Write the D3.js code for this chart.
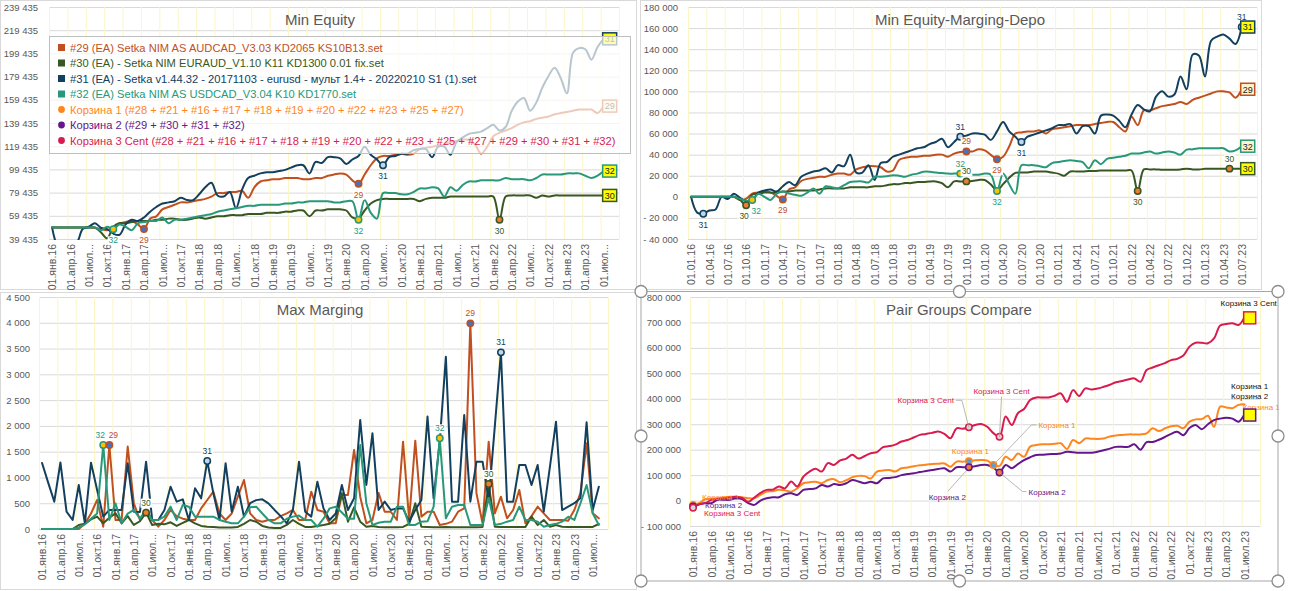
<!DOCTYPE html>
<html>
<head>
<meta charset="utf-8">
<script src="https://cdn.jsdelivr.net/npm/d3@7"></script>
<style>
  body { margin: 0; background: #fff; }
  svg { display: block; font-family: "Liberation Sans", Arial, sans-serif; }
</style>
</head>
<body>
<svg id="board" width="1290" height="591"></svg>
<script>
// quarter tick labels (one per 3 months, Jan 2016 .. Jul 2023)
var qRu = ["01.янв.16","01.апр.16","01.июл...","01.окт.16","01.янв.17","01.апр.17","01.июл...","01.окт.17",
  "01.янв.18","01.апр.18","01.июл...","01.окт.18","01.янв.19","01.апр.19","01.июл...","01.окт.19",
  "01.янв.20","01.апр.20","01.июл...","01.окт.20","01.янв.21","01.апр.21","01.июл...","01.окт.21",
  "01.янв.22","01.апр.22","01.июл...","01.окт.22","01.янв.23","01.апр.23","01.июл..."];
var qRuFull = ["01.янв.16","01.апр.16","01.июл.16","01.окт.16","01.янв.17","01.апр.17","01.июл.17","01.окт.17",
  "01.янв.18","01.апр.18","01.июл.18","01.окт.18","01.янв.19","01.апр.19","01.июл.19","01.окт.19",
  "01.янв.20","01.апр.20","01.июл.20","01.окт.20","01.янв.21","01.апр.21","01.июл.21","01.окт.21",
  "01.янв.22","01.апр.22","01.июл.22","01.окт.22","01.янв.23","01.апр.23","01.июл.23"];
var qNum = ["01.01.16","01.04.16","01.07.16","01.10.16","01.01.17","01.04.17","01.07.17","01.10.17",
  "01.01.18","01.04.18","01.07.18","01.10.18","01.01.19","01.04.19","01.07.19","01.10.19",
  "01.01.20","01.04.20","01.07.20","01.10.20","01.01.21","01.04.21","01.07.21","01.10.21",
  "01.01.22","01.04.22","01.07.22","01.10.22","01.01.23","01.04.23","01.07.23"];

var eqTicks = [39435,59435,79435,99435,119435,139435,159435,179435,199435,219435,239435];
var mdTicks = [-40000,-20000,0,20000,40000,60000,80000,100000,120000,140000,160000,180000];
var mmTicks = [0,500,1000,1500,2000,2500,3000,3500,4000,4500];
var pgTicks = [-100000,0,100000,200000,300000,400000,500000,600000,700000,800000];

var legendNames = [
  "#29 (EA) Setka NIM AS AUDCAD_V3.03 KD2065 KS10B13.set",
  "#30 (EA) - Setka NIM EURAUD_V1.10 K11 KD1300 0.01 fix.set",
  "#31 (EA) - Setka v1.44.32 - 20171103 - eurusd - мульт 1.4+ - 20220210 S1 (1).set",
  "#32 (EA) Setka NIM AS USDCAD_V3.04 K10 KD1770.set",
  "Корзина 1 (#28 + #21 + #16 + #17 + #18 + #19 + #20 + #22 + #23 + #25 + #27)",
  "Корзина 2 (#29 + #30 + #31 + #32)",
  "Корзина 3 Cent (#28 + #21 + #16 + #17 + #18 + #19 + #20 + #22 + #23 + #25 + #27 + #29 + #30 + #31 + #32)"
];

// Min Equity, thousands
var eq29 = [49.4,49.4,49.4,49.4,49.4,49.4,49.4,49,48,47, 50,53,54,55,52,48,57,59,65,67,
  69,71,71,72,73,74,76,79,79,80, 80,81,75,84,89,90,91,91,92,92, 92,91,91,92,92,94,95,96,95,90,
  87,95,103,109,111,111,112,113,112,113, 117,118,119,120,121,123,124,125,125,121,
  113,119,128,131,133,135,138,140,141,143, 144,145,147,148,149,150,151,151,151,148,154];
var eq30 = [49.4,49.4,49.4,49.4,49.4,49.4,49.4,49.4,45,40, 50,53,53,54,55,55,55,56,56,57,
  57,56,56,57,58,57,58,59,59,60, 60,60,61,61,61,62,62,62,63,63, 64,64,59,64,64,65,65,65,64,58,
  57,64,70,73,74,74,74,74,74,74, 72,74,75,75,75,76,76,76,76,76,
  76,76,76,56,76,77,77,77,77,75, 77,76,77,77,77,77,77,77,77,77,77];
var eq31 = [49.4,33,32,35,36,48,50,53,49,48, 44,43,52,56,55,58,63,67,70,71,
  72,75,73,73,78,84,88,77,76,80, 66,82,92,94,96,97,97,98,99,101, 103,103,96,106,105,110,110,109,104,108,
  111,119,112,108,103,110,111,113,113,116, 117,117,110,119,119,112,123,127,130,131,
  132,135,138,133,136,150,158,161,150,157, 170,180,187,178,165,200,204,203,194,205,212];
var eq32 = [49.4,49.4,49.4,49.4,49.4,49.4,49.4,49.4,47,50, 47.8,52,50,47,53,54,55,55,58,53,
  56,56,57,58,59,60,61,63,64,65, 66,67,68,68,69,69,69,69,70,70, 71,71,72,72,72,72,71,71,72,72,
  56,73,62,57,79,79,79,78,78,80, 83,83,84,83,76,84,81,86,89,89,
  90,90,90,90,92,91,91,91,90,92, 95,95,95,95,96,96,96,94,92,94,98];

// Min Equity - Marging - Depo, thousands
var md29 = [0,0,0,0,0,0,0,0,-3,-2, 3,4,5,4,1,-2.5,7,9,15,17,
  18,19,19,21,22,22,21,26,28,29, 29,28,24,25,35,37,38,38,39,39, 40,40,38,41,42.5,43,43,45,44,39.8,
  35.6,38,47.8,60,61,62,62,63,60,64, 65,66,67,68,68,68,69,70,71,71,
  66,62,76,68,82,82,84,86,87,88, 90,88,92,94,96,98,100,100,99,94,102];
var md30 = [0,0,0,0,0,0,0,0,-3,-8, 2,3,4,4,4,5,5,6,6,6,
  6,7,8,8,8,8,9,9,9,9, 10,10,11,12,12,13,13,14,14,14.6, 14.6,13,9,14.6,14.6,14.6,15,16,16,11.6,
  6,12,18,22.7,23,23,24,24,24,23, 22,20,24,24,24,24.5,24.6,25,25,25,
  25,25,25,5.5,26,26,26,25.6,25.6,25.6, 26,26.7,26,26,26.5,26.7,26.7,26.7,26.7,26.7,26.7];
var md31 = [0,-15,-16,-13,-12,0,-2,3,-1,-4, -3,4,6,7,5,10,14,11,19,22,
  24,25,27,23,30,29,40,23,23,30, 16,32,33,38,40,42,44,46,47,50, 52,55,47,52,57,58,60,60,59,54,
  62,71,62,57,52,57,59,61,63,65, 68,68,69,60,67,67,60,77,78,77,
  72,66,78,87,83,81,95,100,95,97, 114,102,135,134,114,148,152,154,150,145,161];
var md32 = [0,0,0,0,0,0,0,0,-2,-4, -3,3,0,-3,3,5,3,2,1,4,
  8,3,10,9,8,11,14,14.6,14.6,13.6, 19,19,19.5,20.5,20,19,21,22,23.8,23.8, 23,22.5,22,22,22,22,21,21,22,21,
  5.5,22,12,3,30,30,30,29,28,32, 33,34,34.7,34,33,27,34.7,31,36,37,
  38,39,41,41,42,43,41,42,43,42, 40,44.8,45,46,46,46,46,46,43,44,48];

// Max Marging (92 months)
var mm29 = [0,0,0,0,0,0,0,100,300,562, 45,1630,175,175,1600,500,175,370,175,45,
  175,368,250,200,175,175,400,562,724,300, 175,300,627,950,304,175,142,175,175,250,
  304,369,175,175,724,370,336,110,110,660, 660,1533,627,110,175,700,335,335,175,1694,
  175,1713,240,336,336,78,100,142,336,400, 3989,692,110,1694,304,627,207,368,757,110,
  250,433,304,175,175,175,162,368,700,1662,304,207];
var mm30 = [0,0,0,0,0,0,78,100,187,240, 110,220,304,110,250,78,150,317,78,100,
  90,130,60,120,175,110,60,45,40,30, 30,30,40,100,175,140,60,30,20,20,
  80,175,100,40,40,60,78,100,207,692, 142,420,142,45,58,40,32,32,32,40,
  100,498,45,40,32,32,40,32,32,32, 32,32,40,874,45,40,40,40,40,40,
  240,78,175,45,78,45,40,40,40,40,40,97];
var mm31 = [1280,900,530,1290,336,175,854,110,1287,757, 240,370,370,370,1274,336,330,1306,175,175,
  370,821,530,575,175,789,595,1320,692,175, 1274,336,821,240,500,560,575,498,370,250,
  110,370,1306,336,240,918,400,175,300,854, 368,595,2115,854,1856,368,530,368,400,400,
  142,368,563,2180,595,1700,3342,530,530,2211, 530,1306,1306,560,1990,3426,530,530,1242,1242,
  853,1242,336,1200,2082,368,433,500,600,2069,368,820];
var mm32 = [0,0,0,0,0,0,30,90,200,300, 1630,175,498,110,300,370,200,370,175,175,
  240,433,175,466,433,240,240,240,240,175, 140,110,110,240,420,433,300,175,110,110,
  200,240,260,175,175,45,200,400,433,320, 200,200,1630,500,78,120,142,142,433,433,
  78,78,142,150,433,1759,207,433,466,466, 78,78,78,600,78,100,142,175,433,175,
  175,142,45,78,100,142,239,175,500,854,304,78];

// Pair Groups Compare, thousands
var pgK1 = [-17,-10,5,7,9,12,15,14,13,9, 9,22,35,37,42,40,35,48,68,72,
  74,68,81,84,72,80,92,97,96,87, 114,118,120,114,127,130,135,139,141,144,
  145,146,133,153,153,155,158,159,157,140, 136,172,159,185,172,212,218,221,221,223,
  225,203,238,225,244,243,242,244,252,256, 258,260,260,260,264,284,273,284,292,294,
  284,310,319,320,333,290,369,366,363,376,378];
var pgK2 = [-23,-15,-10,-10,3,3,3,9,6,-10, -17,0,9,13,13,25,29,22,42,45,
  48,61,55,65,61,68,81,75,68,74, 68,87,89,92,100,104,107,112,116,120,
  124,127,114,131,131,131,135,140,140,130, 110,140,127,143,159,170,179,180,182,183,
  185,192,190,188,188,188,192,198,204,211, 211,211,221,200,230,230,239,250,262,270,
  257,285,297,280,300,316,322,325,322,310,340];
var pgK3 = [-28,-15,-10,3,5,9,12,15,10,-5, 12,30,42,43,55,48,75,55,94,114,
  125,114,147,140,158,165,180,165,175,186, 190,210,214,220,232,238,248,258,262,266,
  271,262,245,284,282,288,297,301,290,265, 251,330,297,343,360,395,405,405,405,412,
  421,388,434,411,441,436,440,447,455,465, 470,476,480,467,513,523,532,540,552,557,
  570,605,620,620,618,637,688,694,697,690,722];

var C29 = "#C0501F", C30 = "#385723", C31 = "#12405E", C32 = "#27997A";
var CK1 = "#FF861C", CK2 = "#64168C", CK3 = "#D81B4E";
var GRID = "#D9D9D9", VGRID = "#FCF6C4", TXT = "#595959";

var svg = d3.select("#board");
var clipN = 0;
var fmtSp = function(v) {
  return (v < 0 ? "- " : "") + d3.format(",")(Math.abs(v)).replace(/,/g, " ");
};
var smooth = d3.curveCatmullRom.alpha(0.5);

// panel frames
svg.append("rect").attr("x", 0.5).attr("y", 0.5).attr("width", 636).attr("height", 289).attr("fill", "none").attr("stroke", GRID);
svg.append("rect").attr("x", 640.5).attr("y", 0.5).attr("width", 621).attr("height", 289).attr("fill", "none").attr("stroke", GRID);
svg.append("rect").attr("x", 0.5).attr("y", 292.5).attr("width", 636).attr("height", 297).attr("fill", "none").attr("stroke", GRID);

function drawChart(o) {
  var g = svg.append("g");
  var x = d3.scaleLinear().domain([-0.5, 92.5]).range([o.left, o.right]);
  var y = d3.scaleLinear().domain(o.yDomain).range([o.bottom, o.top]);
  var w = o.right - o.left;

  g.append("g").attr("transform", "translate(" + o.left + ",0)")
    .call(d3.axisLeft(y).tickValues(o.yTicks).tickSize(-w).tickFormat(""))
    .call(function(a) { a.select(".domain").remove(); })
    .selectAll("line").attr("stroke", GRID);

  g.append("g").attr("transform", "translate(0," + o.bottom + ")")
    .call(d3.axisBottom(x).tickValues(d3.range(-0.5, 93, 3)).tickSize(-(o.bottom - o.top)).tickFormat(""))
    .call(function(a) { a.select(".domain").remove(); })
    .selectAll("line").attr("stroke", VGRID);

  g.append("g").attr("transform", "translate(" + o.yLabelX + ",0)")
    .call(d3.axisLeft(y).tickValues(o.yTicks).tickSize(0).tickPadding(0).tickFormat(fmtSp))
    .call(function(a) { a.select(".domain").remove(); })
    .selectAll("text").attr("fill", TXT).attr("font-size", 9.5).attr("font-family", "Liberation Sans, Arial, sans-serif");

  g.append("g").attr("transform", "translate(0," + (o.bottom + 5) + ")")
    .call(d3.axisBottom(x).tickValues(o.labels.map(function(_, i) { return i * 3; }))
      .tickSize(0).tickPadding(0).tickFormat(function(d, i) { return o.labels[i]; }))
    .call(function(a) { a.select(".domain").remove(); })
    .selectAll("text")
      .attr("transform", "rotate(-90)").attr("text-anchor", "end")
      .attr("x", 0).attr("y", 0).attr("dy", "0.35em")
      .attr("fill", TXT).attr("font-size", 10.5).attr("font-family", "Liberation Sans, Arial, sans-serif");

  g.append("text").attr("x", o.titleX).attr("y", o.titleY).attr("text-anchor", "middle")
    .attr("font-size", 15).attr("fill", TXT).text(o.title);

  var clipId = "plotclip" + (++clipN);
  g.append("clipPath").attr("id", clipId).append("rect")
    .attr("x", o.left).attr("y", o.top - 2).attr("width", w).attr("height", o.bottom - o.top + 3);

  var lines = g.append("g").attr("clip-path", "url(#" + clipId + ")");
  o.series.forEach(function(s) {
    lines.append("path").datum(s.values)
      .attr("fill", "none").attr("stroke", s.color).attr("stroke-width", 2)
      .attr("stroke-linejoin", "round").attr("stroke-linecap", "round")
      .attr("d", d3.line().x(function(d, i) { return x(i); }).y(function(d) { return y(d * o.k); }).curve(o.curve));
  });
  return { g: g, x: x, y: y, o: o };
}

function pointOf(c, key, m) {
  var s = c.o.series.filter(function(d) { return d.key === key; })[0];
  return { s: s, px: c.x(m), py: c.y(s.values[m] * c.o.k) };
}

// small label with white background, like Excel data labels
function tag(g, x, y, txt, color, size, anchor) {
  var t = g.append("text").attr("x", x).attr("y", y).attr("text-anchor", anchor || "middle")
    .attr("font-size", size || 8.5).attr("fill", color).text(txt);
  var b = t.node().getBBox();
  g.insert("rect", function() { return t.node(); })
    .attr("x", b.x - 1).attr("y", b.y + 1).attr("width", b.width + 2).attr("height", b.height - 1).attr("fill", "#fff");
}

function addMarks(c, marks) {
  marks.forEach(function(mk) {
    var p = pointOf(c, mk.s, mk.m);
    var dx = mk.dx || 0;
    c.g.append("circle").attr("cx", p.px).attr("cy", p.py).attr("r", 3.2)
      .attr("fill", p.s.fill).attr("stroke", p.s.color).attr("stroke-width", 1.5);
    if (mk.pos === "a") tag(c.g, p.px + dx, p.py - 7, mk.s, p.s.color);
    if (mk.pos === "b") tag(c.g, p.px + dx, p.py + 14, mk.s, p.s.color);
  });
}

function endBoxes(c, boxes) {
  boxes.forEach(function(bx) {
    var s = c.o.series.filter(function(d) { return d.key === bx.s; })[0];
    var m = s.values.length - 1;
    var px = c.x(m), py = c.y(s.values[m] * c.o.k);
    c.g.append("rect").attr("x", px - 1).attr("y", py - 6).attr("width", 14).attr("height", 12)
      .attr("fill", bx.fill).attr("stroke", s.color).attr("stroke-width", 1.5);
    c.g.append("text").attr("x", px + 6).attr("y", py + 3.3).attr("text-anchor", "middle")
      .attr("font-size", 9).attr("fill", "#222").text(bx.s);
  });
}

// ---------- Min Equity ----------
var eqChart = drawChart({
  left: 49, right: 619, top: 7, bottom: 239, yDomain: [39435, 239435], yTicks: eqTicks, yLabelX: 38,
  labels: qRu, title: "Min Equity", titleX: 320, titleY: 25, curve: smooth, k: 1000,
  series: [
    { key: "29", values: eq29, color: C29, fill: "#4472C4" },
    { key: "30", values: eq30, color: C30, fill: "#ED7D31" },
    { key: "31", values: eq31, color: C31, fill: "#BDD7EE" },
    { key: "32", values: eq32, color: C32, fill: "#FFC000" }
  ]
});
addMarks(eqChart, [
  { s: "32", m: 10, pos: "b" }, { s: "29", m: 15, pos: "b" },
  { s: "29", m: 50, pos: "b" }, { s: "32", m: 50, pos: "b" },
  { s: "31", m: 54, pos: "b" }, { s: "30", m: 73, pos: "b" }
]);
endBoxes(eqChart, [
  { s: "31", fill: "#FFFF00" }, { s: "29", fill: "#FFF2CC" },
  { s: "32", fill: "#FFFF00" }, { s: "30", fill: "#FFFF00" }
]);

// legend of the first chart (semi-transparent, lines show through)
var legColors = [C29, C30, C31, C32, CK1, CK2, CK3];
var leg = svg.append("g");
leg.append("rect").attr("x", 49.5).attr("y", 36.5).attr("width", 581).attr("height", 117)
  .attr("fill", "#fff").attr("fill-opacity", 0.7).attr("stroke", "#BFBFBF");
var legTexts = [];
legendNames.forEach(function(name, i) {
  var yy = 51.5 + i * 15.5;
  if (i < 4) {
    leg.append("rect").attr("x", 58).attr("y", yy - 7.5).attr("width", 7).attr("height", 7).attr("fill", legColors[i]);
  } else {
    leg.append("circle").attr("cx", 61.5).attr("cy", yy - 4).attr("r", 3.4).attr("fill", legColors[i]);
  }
  legTexts.push(leg.append("text").attr("x", 70).attr("y", yy).attr("font-size", 12)
    .attr("fill", legColors[i]).text(name));
});
var longest = d3.max(legTexts, function(t) { return t.node().getComputedTextLength(); });
legTexts.forEach(function(t) { t.attr("font-size", 12 * 546 / longest); });

// ---------- Min Equity-Marging-Depo ----------
var mdChart = drawChart({
  left: 688, right: 1257, top: 7, bottom: 239, yDomain: [-40000, 180000], yTicks: mdTicks, yLabelX: 678,
  labels: qNum, title: "Min Equity-Marging-Depo", titleX: 960, titleY: 25, curve: smooth, k: 1000,
  series: [
    { key: "29", values: md29, color: C29, fill: "#4472C4" },
    { key: "30", values: md30, color: C30, fill: "#ED7D31" },
    { key: "31", values: md31, color: C31, fill: "#BDD7EE" },
    { key: "32", values: md32, color: C32, fill: "#FFC000" }
  ]
});
addMarks(mdChart, [
  { s: "31", m: 2, pos: "b" }, { s: "30", m: 9, pos: "b", dx: -2 }, { s: "32", m: 10, pos: "b", dx: 4 },
  { s: "29", m: 15, pos: "b" },
  { s: "31", m: 44, pos: "a" }, { s: "32", m: 44, pos: "a" },
  { s: "29", m: 45, pos: "a" }, { s: "30", m: 45, pos: "a" },
  { s: "29", m: 50, pos: "b" }, { s: "32", m: 50, pos: "b" },
  { s: "31", m: 54, pos: "b" }, { s: "30", m: 73, pos: "b" },
  { s: "30", m: 88, pos: "a" }, { s: "31", m: 90, pos: "a" }
]);
endBoxes(mdChart, [
  { s: "31", fill: "#FFFF00" }, { s: "29", fill: "#FFF2CC" },
  { s: "32", fill: "#FFF2CC" }, { s: "30", fill: "#FFFF00" }
]);

// ---------- Max Marging ----------
var mmChart = drawChart({
  left: 39, right: 608, top: 297, bottom: 529, yDomain: [0, 4500], yTicks: mmTicks, yLabelX: 30,
  labels: qRu, title: "Max Marging", titleX: 320, titleY: 315, curve: d3.curveLinear, k: 1,
  series: [
    { key: "29", values: mm29, color: C29, fill: "#4472C4" },
    { key: "30", values: mm30, color: C30, fill: "#ED7D31" },
    { key: "31", values: mm31, color: C31, fill: "#BDD7EE" },
    { key: "32", values: mm32, color: C32, fill: "#FFC000" }
  ]
});
addMarks(mmChart, [
  { s: "32", m: 10, pos: "a", dx: -3 }, { s: "29", m: 11, pos: "a", dx: 4 }, { s: "30", m: 17, pos: "a" },
  { s: "31", m: 27, pos: "a" }, { s: "32", m: 65, pos: "a" }, { s: "29", m: 70, pos: "a" },
  { s: "30", m: 73, pos: "a" }, { s: "31", m: 75, pos: "a" }
]);

// ---------- Pair Groups Compare ----------
var pgChart = drawChart({
  left: 690, right: 1260, top: 297, bottom: 526, yDomain: [-100000, 800000], yTicks: pgTicks, yLabelX: 681,
  labels: qRuFull, title: "Pair Groups Compare", titleX: 959, titleY: 315, curve: smooth, k: 1000,
  series: [
    { key: "K1", values: pgK1, color: CK1, fill: "#5B9BD5" },
    { key: "K2", values: pgK2, color: CK2, fill: "#ED7D31" },
    { key: "K3", values: pgK3, color: CK3, fill: "#D9D9D9" }
  ]
});
addMarks(pgChart, [
  { s: "K1", m: 0 }, { s: "K2", m: 0 }, { s: "K3", m: 0 },
  { s: "K1", m: 45 }, { s: "K2", m: 45 }, { s: "K3", m: 45 },
  { s: "K1", m: 49 }, { s: "K2", m: 50 }, { s: "K3", m: 50 }
]);

// callouts: offsets from the data point, optional leader line
var pgNotes = [
  { s: "K1", m: 0, text: "Корзина 1", dx: 9, dy: -5, anchor: "start" },
  { s: "K2", m: 0, text: "Корзина 2", dx: 12, dy: 2, anchor: "start" },
  { s: "K3", m: 0, text: "Корзина 3 Cent", dx: 11, dy: 8, anchor: "start" },
  { s: "K3", m: 45, text: "Корзина 3 Cent", dx: -15, dy: -24, anchor: "end", lead: [[-13, -27], [-7, -27], [0, 0]] },
  { s: "K1", m: 45, text: "Корзина 1", dx: -17, dy: -7, anchor: "start" },
  { s: "K2", m: 45, text: "Корзина 2", dx: -3, dy: 33, anchor: "end", lead: [[-21, 24], [-3, 4]] },
  { s: "K3", m: 50, text: "Корзина 3 Cent", dx: 2, dy: -43, anchor: "middle", lead: [[2, -40], [0, 0]] },
  { s: "K1", m: 49, text: "Корзина 1", dx: 45, dy: -37, anchor: "start", lead: [[43, -40], [38, -40], [0, 0]] },
  { s: "K2", m: 50, text: "Корзина 2", dx: 29, dy: 22, anchor: "start", lead: [[0, 0], [23, 19], [27, 19]] }
];
pgNotes.forEach(function(n) {
  var p = pointOf(pgChart, n.s, n.m);
  if (n.lead) {
    pgChart.g.append("path")
      .attr("d", d3.line()(n.lead.map(function(q) { return [p.px + q[0], p.py + q[1]]; })))
      .attr("fill", "none").attr("stroke", "#A6A6A6").attr("stroke-width", 0.8);
  }
  pgChart.g.append("text").attr("x", p.px + n.dx).attr("y", p.py + n.dy).attr("text-anchor", n.anchor)
    .attr("font-size", 8).attr("fill", p.s.color).text(n.text);
});

// end markers of the compare chart
var endK3 = pointOf(pgChart, "K3", 90), endK2 = pointOf(pgChart, "K2", 90), endK1 = pointOf(pgChart, "K1", 90);
pgChart.g.append("text").attr("x", endK1.px - 2).attr("y", endK1.py + 5.5).attr("font-size", 8).attr("fill", CK1).text("Корзина 1");
[endK3, endK2].forEach(function(p) {
  pgChart.g.append("rect").attr("x", p.px - 1).attr("y", p.py - 5).attr("width", 12).attr("height", 12)
    .attr("fill", "#FFFF00").attr("stroke", p.s.color).attr("stroke-width", 1.5);
});
pgChart.g.append("text").attr("x", endK3.px + 4).attr("y", endK3.py - 11).attr("text-anchor", "middle")
  .attr("font-size", 8).attr("fill", "#111").text("Корзина 3 Cent");
pgChart.g.append("text").attr("x", endK2.px + 5).attr("y", endK2.py - 25).attr("text-anchor", "middle")
  .attr("font-size", 8).attr("fill", "#111").text("Корзина 1");
pgChart.g.append("text").attr("x", endK2.px + 5).attr("y", endK2.py - 15).attr("text-anchor", "middle")
  .attr("font-size", 8).attr("fill", "#111").text("Корзина 2");

// selected chart frame with handles
svg.append("rect").attr("x", 641).attr("y", 291.5).attr("width", 637).attr("height", 289.5)
  .attr("fill", "none").attr("stroke", "#A6A6A6");
[[641, 291.5], [959.5, 291.5], [1278, 291.5], [641, 436], [1278, 436], [641, 581], [959.5, 581], [1278, 581]]
  .forEach(function(h) {
    svg.append("circle").attr("cx", h[0]).attr("cy", h[1]).attr("r", 6)
      .attr("fill", "#fff").attr("stroke", "#8C8C8C").attr("stroke-width", 1.3);
  });
</script>
</body>
</html>
